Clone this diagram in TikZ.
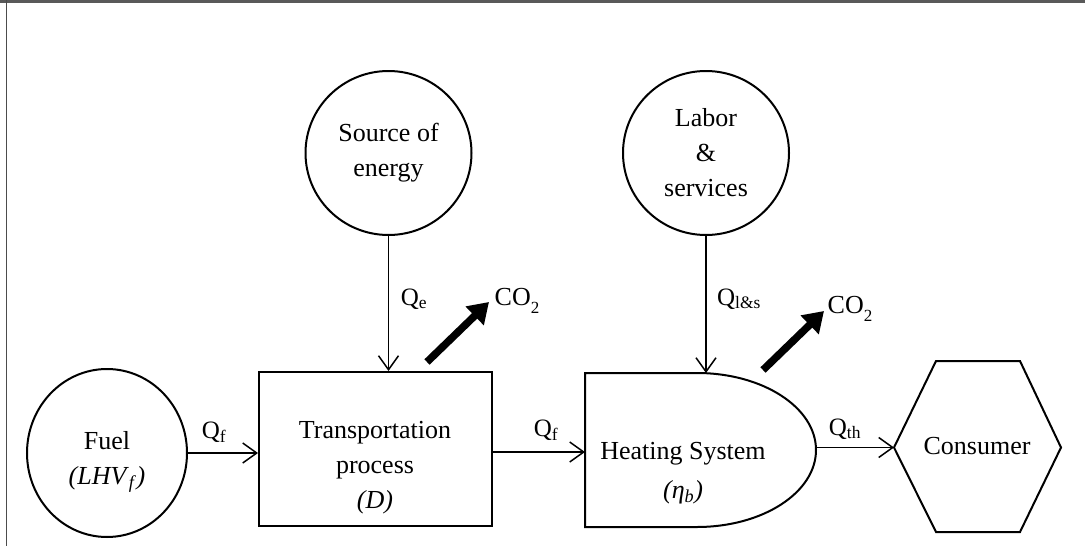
\documentclass[tikz,border=0pt]{standalone}
\usepackage{fontspec}
\setmainfont{Liberation Serif}
\usetikzlibrary{arrows.meta,shapes.geometric}
\newcommand{\lowsub}[1]{\raisebox{-0.32em}{\fontsize{17}{17}\selectfont #1}}
\begin{document}
\begin{tikzpicture}[x=1pt,y=-1pt,
  shapeline/.style={line width=2pt},
  flow/.style={line width=1.4pt,-{Straight Barb[length=14pt,width=20pt,line width=1.5pt]}},
  emit/.style={line width=7.5pt,-{Triangle[length=20pt,width=25pt]}},
  bigtxt/.style={font=\fontsize{26}{35}\selectfont, align=center, inner sep=0pt},
  qtxt/.style={font=\fontsize{25}{28}\selectfont, inner sep=0pt},
  cotxt/.style={font=\fontsize{26}{30}\selectfont, inner sep=0pt},
  roundsrc/.style={ellipse, draw, shapeline, inner sep=0pt},
]
\useasboundingbox (0,0) rectangle (1085,546);
\fill[white] (0,0) rectangle (1085,546);
% frame
\draw[line width=2.5pt, gray!70!black] (0,1.5) -- (1085,1.5);
\draw[line width=1.3pt, gray!60!black] (6.5,0) -- (6.5,546);

% sources
\node[roundsrc, minimum width=160pt, minimum height=168pt] (fuel) at (107,453) {};
\node[bigtxt] (fueltxt) at (107,462)
  {Fuel\\\textit{(LHV}\textsubscript{\textit{f}}\textit{)}};
\node[roundsrc, bigtxt, minimum width=166pt, minimum height=164pt] (src) at (388.5,153)
  {Source of\\energy};
\node[roundsrc, bigtxt, minimum width=166pt, minimum height=164pt] (lab) at (706,153)
  {Labor\\\&\\services};

% transportation process
\node[draw, shapeline, minimum width=233pt, minimum height=154pt] (trans) at (375.5,449) {};
\node[bigtxt] (transtxt) at (375,468) {Transportation\\process\\\textit{(D)}};

% heating system
\draw[shapeline] (585,373) -- (697,373)
  arc[start angle=-90, end angle=90, x radius=119, y radius=77] -- (585,527) -- cycle;
\node[bigtxt, font=\fontsize{26}{39}\selectfont] (heattxt) at (683,473) {Heating System\\\textit{(η}\textsubscript{\textit{b}}\textit{)}};
\coordinate (heatW) at (585,452);
\coordinate (heatE) at (816,447.5);
\coordinate (heatN) at (706,373);

% consumer
\draw[shapeline] (894,447.5) -- (936,361) -- (1020,361) -- (1061,447.5) -- (1020,532) -- (936,532) -- cycle;
\node[bigtxt] (constxt) at (977,446) {Consumer};
\coordinate (consW) at (894,447.5);

% flows
\draw[flow] (fuel.east) -- (fuel.east -| trans.west);
\draw[flow] (trans.east |- heatW) -- (heatW);
\draw[flow] (heatE) -- (consW);
\draw[flow] (src.south) -- (src.south |- trans.north);
\draw[flow] (lab.south) -- (heatN);

% labels
\node[qtxt] (qf1) at (214,432) {Q\textsubscript{f}};
\node[qtxt] (qf2) at (546,430) {Q\textsubscript{f}};
\node[qtxt] (qth) at (845,429) {Q\textsubscript{th}};
\node[qtxt] (qe) at (414,299) {Q\textsubscript{e}};
\node[qtxt] (qls) at (739,299) {Q\textsubscript{l\&s}};

% emissions
\coordinate (e1s) at (427,362);
\coordinate (e1e) at (489,302);
\coordinate (e2s) at (763,370);
\coordinate (e2e) at (824,311);
\draw[emit] (e1s) -- (e1e);
\draw[emit] (e2s) -- (e2e);
\node[cotxt] (co1) at (517,301) {CO\lowsub{2}};
\node[cotxt] (co2) at (850,309) {CO\lowsub{2}};
\end{tikzpicture}
\end{document}
